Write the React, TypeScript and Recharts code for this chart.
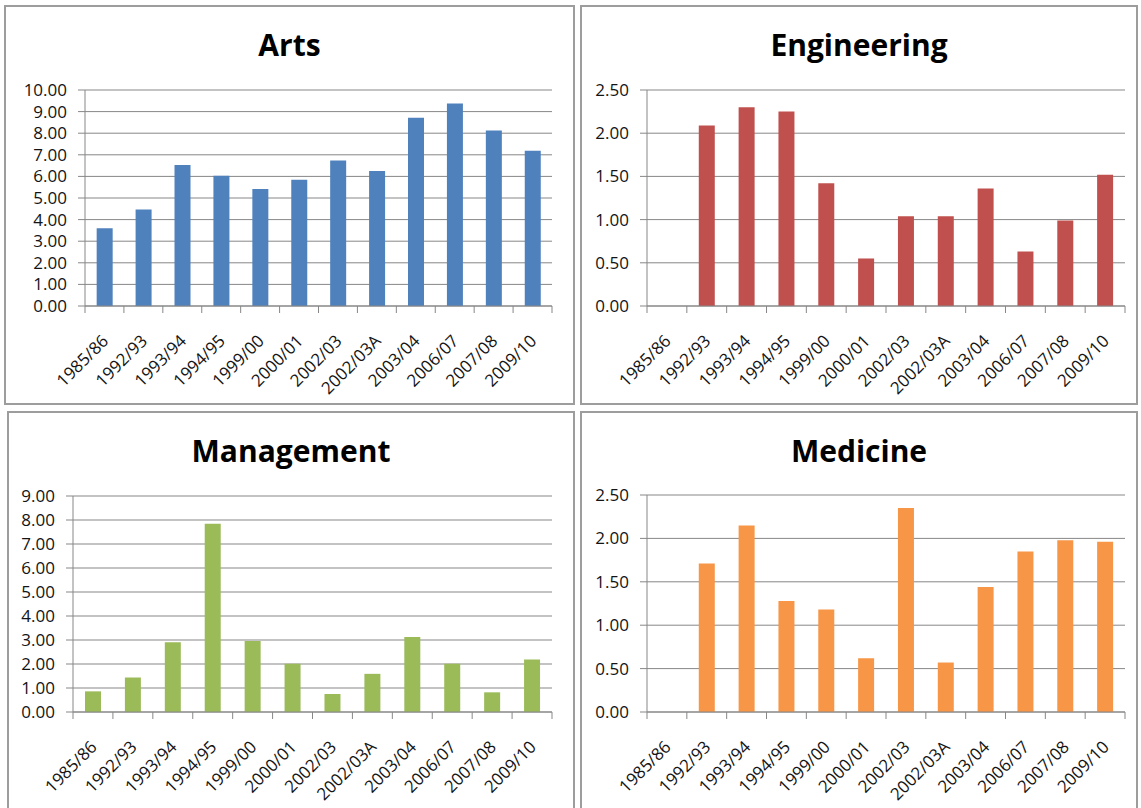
import { BarChart, Bar, XAxis, YAxis, CartesianGrid } from 'recharts'

const categories = [
  '1985/86', '1992/93', '1993/94', '1994/95', '1999/00', '2000/01',
  '2002/03', '2002/03A', '2003/04', '2006/07', '2007/08', '2009/10',
]

const artsValues = [3.6, 4.47, 6.53, 6.03, 5.42, 5.85, 6.74, 6.25, 8.72, 9.38, 8.13, 7.19]
const engineeringValues = [null, 2.09, 2.3, 2.25, 1.42, 0.55, 1.04, 1.04, 1.36, 0.63, 0.99, 1.52]
const managementValues = [0.86, 1.44, 2.91, 7.84, 2.96, 2.01, 0.75, 1.59, 3.12, 2.01, 0.82, 2.19]
const medicineValues = [null, 1.71, 2.15, 1.28, 1.18, 0.62, 2.35, 0.57, 1.44, 1.85, 1.98, 1.96]

const artsTicks = [0, 1, 2, 3, 4, 5, 6, 7, 8, 9, 10]
const managementTicks = [0, 1, 2, 3, 4, 5, 6, 7, 8, 9]
const smallTicks = [0, 0.5, 1, 1.5, 2, 2.5]

const AXIS = '#878787'
const FONT = '"Open Sans", "Noto Sans", sans-serif'
const LABEL = '#141414'

type Box = { left: number; top: number; width: number; height: number }
type Plot = { left: number; top: number; right: number; bottom: number }

// x tick: rotated label plus Excel style tick marks between categories
function CategoryTick(props: any) {
  const { x, y, payload } = props
  const half = payload.offset || 0
  const isLast = payload.value === categories[categories.length - 1]
  const tx = x + 5
  const ty = y + 36
  return (
    <g>
      <line x1={x - half} x2={x - half} y1={y} y2={y + 7} stroke={AXIS} />
      {isLast && <line x1={x + half} x2={x + half} y1={y} y2={y + 7} stroke={AXIS} />}
      <text
        x={tx}
        y={ty}
        textAnchor="end"
        fontSize={17}
        fontFamily={FONT}
        fill={LABEL}
        transform={`rotate(-45, ${tx}, ${ty})`}
      >
        {payload.value}
      </text>
    </g>
  )
}

function Panel({
  title,
  values,
  color,
  ticks,
  box,
  plot,
}: {
  title: string
  values: (number | null)[]
  color: string
  ticks: number[]
  box: Box
  plot: Plot
}) {
  const data = categories.map((c, i) => ({ name: c, value: values[i] }))

  return (
    <>
      <div
        style={{
          position: 'absolute',
          left: box.left,
          top: box.top,
          width: box.width,
          height: box.height,
          border: '2px solid #9d9d9d',
          boxSizing: 'border-box',
          background: '#fff',
        }}
      />
      <svg
        width={box.width}
        height={70}
        style={{ position: 'absolute', left: box.left, top: box.top }}
      >
        <text
          x={box.width / 2}
          y={51}
          textAnchor="middle"
          fontFamily={FONT}
          fontWeight="bold"
          fontSize={30}
          fill="#000"
        >
          {title}
        </text>
      </svg>
      <div style={{ position: 'absolute', left: box.left, top: box.top }}>
        <BarChart
          width={box.width}
          height={box.height}
          data={data}
          barCategoryGap="30%"
          margin={{
            top: plot.top - box.top,
            right: box.left + box.width - plot.right,
            left: 0,
            bottom: 0,
          }}
        >
          <CartesianGrid vertical={false} stroke={AXIS} />
          <XAxis
            dataKey="name"
            interval={0}
            height={box.top + box.height - plot.bottom}
            axisLine={{ stroke: AXIS }}
            tickLine={false}
            tickSize={0}
            tickMargin={0}
            tick={<CategoryTick />}
          />
          <YAxis
            width={plot.left - box.left}
            domain={[ticks[0], ticks[ticks.length - 1]]}
            ticks={ticks}
            interval={0}
            axisLine={{ stroke: AXIS }}
            tickLine={{ stroke: AXIS }}
            tickSize={7}
            tickMargin={11}
            tickFormatter={(v: number) => v.toFixed(2)}
            tick={{ fontSize: 17, fontFamily: FONT, fill: LABEL }}
          />
          <Bar dataKey="value" fill={color} isAnimationActive={false} />
        </BarChart>
      </div>
    </>
  )
}

export default function App() {
  return (
    <div
      style={{
        position: 'absolute',
        left: 0,
        top: 0,
        width: 1141,
        height: 808,
        overflow: 'hidden',
        background: '#fff',
      }}
    >
      <Panel
        title="Arts"
        values={artsValues}
        color="#4f81bd"
        ticks={artsTicks}
        box={{ left: 4, top: 5, width: 571, height: 400 }}
        plot={{ left: 85, top: 90, right: 552, bottom: 306 }}
      />
      <Panel
        title="Engineering"
        values={engineeringValues}
        color="#c0504d"
        ticks={smallTicks}
        box={{ left: 580, top: 5, width: 558, height: 400 }}
        plot={{ left: 647, top: 90, right: 1125, bottom: 306 }}
      />
      <Panel
        title="Management"
        values={managementValues}
        color="#9bbb59"
        ticks={managementTicks}
        box={{ left: 7, top: 411, width: 568, height: 400 }}
        plot={{ left: 73, top: 496, right: 552, bottom: 712 }}
      />
      <Panel
        title="Medicine"
        values={medicineValues}
        color="#f79646"
        ticks={smallTicks}
        box={{ left: 580, top: 411, width: 558, height: 400 }}
        plot={{ left: 647, top: 495, right: 1125, bottom: 712 }}
      />
    </div>
  )
}
